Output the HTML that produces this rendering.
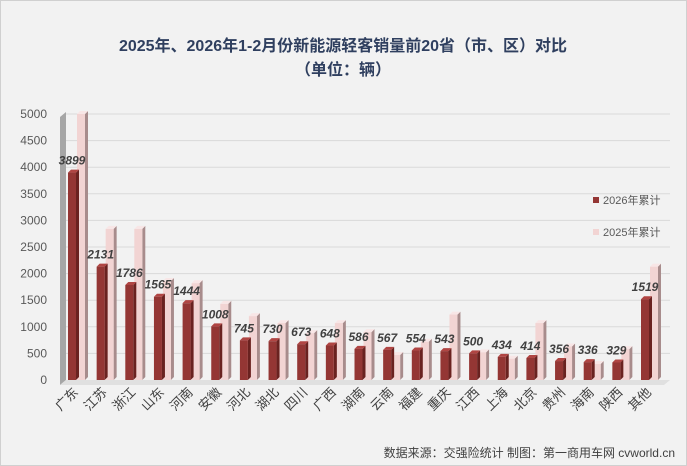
<!DOCTYPE html>
<html><head><meta charset="utf-8"><style>
body{margin:0;background:#fff}
svg{display:block;font-family:"Liberation Sans","Noto Sans CJK SC",sans-serif}
</style></head><body>
<svg width="687" height="466" viewBox="0 0 687 466">
<rect x="0.5" y="0.5" width="686" height="465" fill="#f2f2f2" stroke="#d0d0d0"/>
<text x="343" y="51" text-anchor="middle" font-size="16" font-weight="bold" fill="#2f3f5f">2025年、2026年1-2月份新能源轻客销量前20省（市、区）对比</text>
<text x="343" y="75" text-anchor="middle" font-size="16" font-weight="bold" fill="#2f3f5f">（单位：辆）</text>
<polygon points="60,117 66,112 66,380 60,385" fill="#a6a6a6"/>
<polygon points="60,385 66,380 670,380 664,385" fill="#e0e0e0"/>
<g id="grid" stroke="#d9d9d9" stroke-width="1"></g>
<g id="axis" font-size="12" fill="#595959" text-anchor="end"></g>
<g id="bars"></g>
<g id="labels" font-size="12" font-weight="bold" font-style="italic" fill="#404040" text-anchor="middle"></g>
<g id="cats" font-size="13" fill="#404040"></g>
<rect x="593" y="197" width="6" height="6" fill="#943634"/>
<text x="603" y="204" font-size="11" fill="#595959">2026年累计</text>
<rect x="593" y="229" width="6" height="6" fill="#f2d4d3"/>
<text x="603" y="236" font-size="11" fill="#595959">2025年累计</text>
<text x="675" y="457" text-anchor="end" font-size="12" fill="#404040">数据来源：交强险统计 制图：第一商用车网 cvworld.cn</text>
</svg>
<script>
const ns="http://www.w3.org/2000/svg";
function el(p,t,a,txt){const e=document.createElementNS(ns,t);for(const k in a)e.setAttribute(k,a[k]);if(txt!==undefined)e.textContent=txt;document.getElementById(p).appendChild(e);}
const y0=380,k=266/5000;
for(let v=0;v<=5000;v+=500){const y=y0-v*k;if(v>0)el("grid","line",{x1:66,y1:y,x2:670,y2:y});el("axis","text",{x:47,y:y+4},v);}
const cats=["广东","江苏","浙江","山东","河南","安徽","河北","湖北","四川","广西","湖南","云南","福建","重庆","江西","上海","北京","贵州","海南","陕西","其他"];
const a=[3899,2131,1786,1565,1444,1008,745,730,673,648,586,567,554,543,500,434,414,356,336,329,1519];
const b=[5000,2840,2840,1860,1820,1430,1200,1070,880,1070,900,470,720,1230,520,400,1070,630,300,580,2130];
function bar(x,v,f,top,side){const h=v*k,y=y0-h,w=8,d=3;
el("bars","polygon",{points:`${x+w},${y} ${x+w+d},${y-d} ${x+w+d},${y0-d} ${x+w},${y0}`,fill:side});
el("bars","polygon",{points:`${x},${y} ${x+d},${y-d} ${x+w+d},${y-d} ${x+w},${y}`,fill:top});
el("bars","rect",{x:x,y:y,width:w,height:h,fill:f});}
const n=cats.length,step=(641-68)/(n-1);
for(let i=0;i<n;i++){const x=68+i*step;
bar(x+9,b[i],"#f2d4d3","#f8e6e6","#a88c8c");
bar(x,a[i],"#943634","#b04543","#6a2220");
el("labels","text",{x:x+4,y:y0-a[i]*k-8},a[i]);
el("cats","text",{x:x+11,y:393,"text-anchor":"end",transform:`rotate(-45 ${x+11} 393)`},cats[i]);}
</script>
</body></html>
